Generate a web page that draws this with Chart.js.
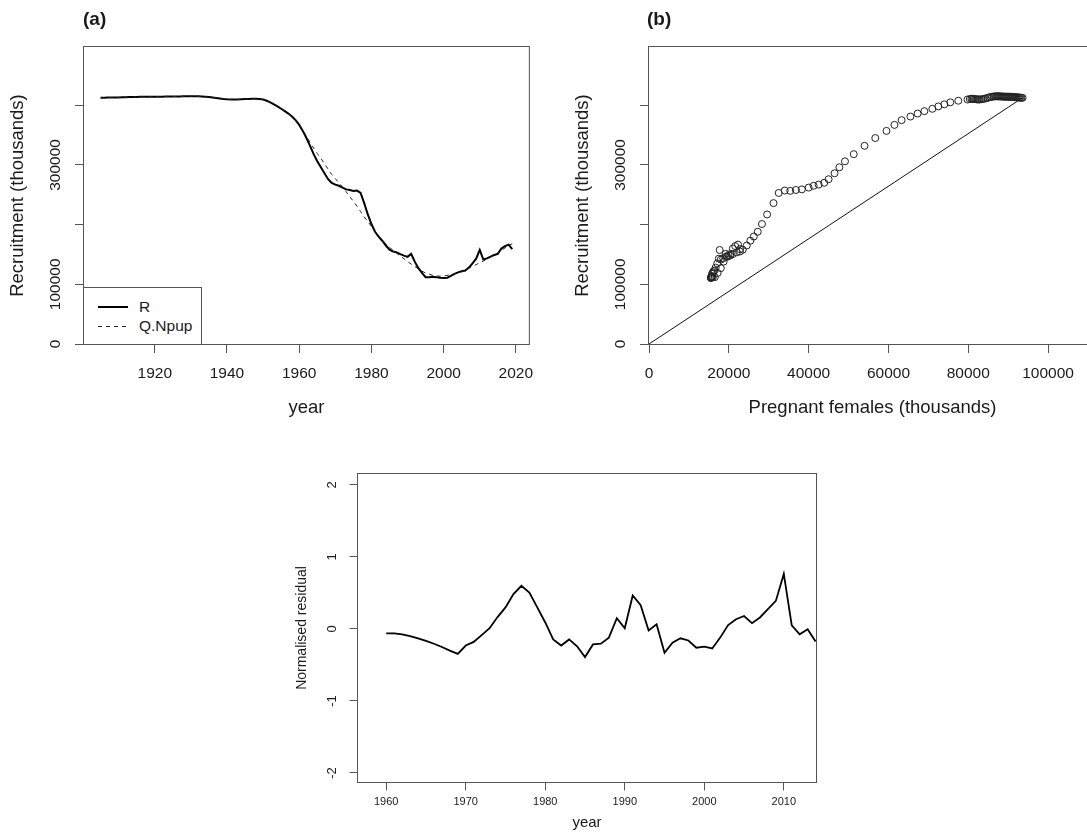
<!DOCTYPE html>
<html>
<head>
<meta charset="utf-8">
<title>Recruitment</title>
<script src="https://cdn.jsdelivr.net/npm/chart.js@4.4.1/dist/chart.umd.min.js"></script>
<style>
  html, body { margin: 0; padding: 0; background: #fff; overflow: hidden; }
  body { width: 1087px; height: 835px; position: relative; font-family: "Liberation Sans", Arial, sans-serif; color: #1a1a1a; }
  canvas { position: absolute; }
  .tag { position: absolute; font-weight: bold; font-size: 19px; line-height: 19px; }
  #legA { position: absolute; left: 83px; top: 287px; width: 119px; height: 58px; box-sizing: border-box;
          border: 1px solid #555; background: #fff; }
  #legA .sw { position: absolute; left: 14px; width: 30px; }
  #legA .solid { top: 18px; height: 2px; background: #000; }
  #legA .dashed { top: 38px; height: 1px; background: repeating-linear-gradient(to right, #222 0 4px, transparent 4px 8px); }
  #legA .key { position: absolute; left: 55px; font-size: 15.5px; line-height: 18px; white-space: nowrap; }
</style>
</head>
<body>
<canvas id="chartA" width="545" height="425" style="left:0; top:0"></canvas>
<canvas id="chartB" width="560" height="425" style="left:545px; top:0"></canvas>
<canvas id="chartC" width="560" height="395" style="left:280px; top:440px"></canvas>

<div class="tag" style="left:83px; top:9px">(a)</div>
<div class="tag" style="left:647px; top:9px">(b)</div>
<div id="legA">
  <div class="sw solid"></div>
  <div class="sw dashed"></div>
  <div class="key" style="top:10px">R</div>
  <div class="key" style="top:29px">Q.Npup</div>
</div>

<script>
// recruitment R and fitted Q.Npup, one value per year from 1905 to 2019
const firstYear = 1905
const recruit = [
    412400, 412500, 412700, 412800, 413000, 413100, 413300, 413400, 413600, 413700, // 1905
    413900, 414000, 414100, 414100, 414200, 414200, 414300, 414300, 414400, 414400, // 1915
    414500, 414600, 414700, 414800, 414800, 414900, 414900, 414800, 414600, 414200, // 1925
    413700, 413000, 412200, 411300, 410500, 410000, 409700, 409600, 409700, 409900, // 1935
    410200, 410500, 410700, 410700, 410400, 409500, 407500, 404800, 401500, 398000, // 1945
    394000, 390000, 386000, 381000, 375000, 367000, 357000, 345000, 332000, 318000, // 1955
    306000, 296000, 286000, 276000, 270000, 267000, 265000, 262000, 259000, 258000, // 1965
    256500, 257000, 253000, 236000, 217000, 201000, 188000, 180000, 173000, 165000, // 1975
    158000, 155000, 153500, 150500, 148000, 146000, 151000, 138000, 127000, 119000, // 1985
    112000, 112000, 112500, 112000, 111000, 110500, 111000, 114000, 117500, 120000, // 1995
    122000, 123000, 128000, 135000, 143000, 157500, 141500, 143500, 146500, 149000, // 2005
    151000, 160000, 164000, 166500, 159000                                          // 2015
]
const qNpup = [
    412400, 412500, 412700, 412800, 413000, 413100, 413300, 413400, 413600, 413700,
    413900, 414000, 414100, 414100, 414200, 414200, 414300, 414300, 414400, 414400,
    414500, 414600, 414700, 414800, 414800, 414900, 414900, 414800, 414600, 414200,
    413700, 413000, 412200, 411300, 410500, 410000, 409700, 409600, 409700, 409900,
    410200, 410500, 410700, 410700, 410400, 409500, 407500, 404800, 401500, 398000,
    394000, 390000, 386000, 381000, 375000, 367000, 358000, 348000, 338000, 328000,
    319000, 311000, 302000, 293000, 284000, 277000, 270000, 263000, 255000, 247000,
    239000, 231000, 222000, 213000, 205000, 197000, 189000, 181000, 174000, 168000,
    162000, 157000, 152000, 147000, 143000, 138000, 134000, 130000, 126000, 122000,
    119000, 117000, 115000, 114000, 113500, 114000, 115000, 116000, 117500, 119000,
    121000, 124000, 127000, 130000, 133000, 136000, 139000, 142000, 145500, 149000,
    153000, 157000, 161000, 165000, 168000
]
// pregnant females (thousands), same years
const pregnant = [
    93600, 93300, 93000, 92800, 92500, 92300, 92000, 91800, 91500, 91300,
    91000, 90800, 90500, 90300, 90000, 89800, 89500, 89300, 89000, 88800,
    88500, 88300, 88000, 87800, 87500, 87300, 87000, 86700, 86400, 86000,
    85600, 85200, 84800, 84300, 83800, 83300, 82900, 82600, 82300, 82000,
    81700, 81400, 81100, 80800, 80400, 79800, 77500, 75500, 74000, 72500,
    71000, 69000, 67300, 65500, 63300, 61500, 59500, 56700, 54000, 51300,
    49100, 47700, 46500, 45000, 43900, 42500, 41250, 40000, 38300, 36800,
    35400, 34000, 32500, 31200, 29600, 28300, 27250, 26250, 25400, 24500,
    23500, 22800, 22000, 21000, 20300, 19600, 19200, 18700, 18000, 17200,
    16500, 16000, 15800, 15600, 15500, 15500, 15600, 15700, 15800, 16000,
    16200, 16400, 16700, 17100, 17500, 17700, 18000, 18600, 19300, 19900,
    20500, 21000, 21600, 22300, 22800
]
// normalised residuals 1960 to 2014
const residFirstYear = 1960
const resid = [
    -0.06, -0.06, -0.075, -0.10, -0.13, -0.165, -0.205, -0.25, -0.30, -0.345,
    -0.23, -0.18, -0.085, 0.01, 0.165, 0.30, 0.485, 0.60, 0.505, 0.30,
    0.09, -0.145, -0.23, -0.145, -0.24, -0.39, -0.215, -0.205, -0.12, 0.15,
    0.01, 0.465, 0.33, -0.02, 0.065, -0.33, -0.19, -0.13, -0.16, -0.26,
    -0.245, -0.27, -0.12, 0.055, 0.135, 0.18, 0.08, 0.16, 0.275, 0.39,
    0.765, 0.05, -0.075, -0.005, -0.175
]

const yearTicks = [1920, 1940, 1960, 1980, 2000, 2020]
const recruitTicks = [0, 100000, 200000, 300000, 400000]
const recruitTickLabels = ['0', '100000', '', '300000', '']
const femaleTicks = [0, 20000, 40000, 60000, 80000, 100000]
const residTicks = [-2, -1, 0, 1, 2]
const residYearTicks = [1960, 1970, 1980, 1990, 2000, 2010]

const years = recruit.map((v, i) => firstYear + i)
const residYears = resid.map((v, i) => residFirstYear + i)

const FONT = "'Liberation Sans', Arial, sans-serif"
const NARROW = "'Liberation Sans Narrow', 'Liberation Sans', Arial, sans-serif"
const AXIS_COL = '#555'
const TEXT_COL = '#1a1a1a'

// R style box around the plot region
const boxPlugin = {
    id: 'rbox',
    afterDraw(chart) {
        const a = chart.chartArea
        const ctx = chart.ctx
        ctx.save()
        ctx.strokeStyle = AXIS_COL
        ctx.lineWidth = 1
        ctx.strokeRect(a.left - 0.5, a.top - 0.5, a.right - a.left + 1, a.bottom - a.top + 1)
        ctx.restore()
    }
}

function fixedTicks(values) {
    return function (scale) { scale.ticks = values.map(v => ({value: v})) }
}

function xAxis(o) {
    return {
        type: 'linear', position: 'bottom', min: o.min, max: o.max,
        afterBuildTicks: fixedTicks(o.ticks),
        afterFit: s => { s.height = o.height },
        border: {display: false},
        grid: {drawOnChartArea: false, drawTicks: true, tickLength: o.tick, tickColor: AXIS_COL, tickWidth: 1},
        ticks: {
            autoSkip: false, minRotation: 0, maxRotation: 0, padding: o.pad, color: TEXT_COL,
            font: {family: FONT, size: o.size}, callback: v => String(v)
        },
        title: {
            display: true, text: o.title, color: TEXT_COL,
            font: {family: FONT, size: o.titleSize}, padding: {top: 0, bottom: o.titlePad}
        }
    }
}

function yAxis(o) {
    return {
        type: 'linear', position: 'left', min: o.min, max: o.max,
        afterBuildTicks: fixedTicks(o.ticks),
        afterFit: s => { s.width = o.width },
        border: {display: false},
        grid: {drawOnChartArea: false, drawTicks: true, tickLength: o.tick, tickColor: AXIS_COL, tickWidth: 1},
        ticks: {
            autoSkip: false, minRotation: 90, maxRotation: 90, crossAlign: 'center', padding: o.pad,
            color: TEXT_COL, font: {family: o.family || FONT, size: o.size},
            callback: (v, i) => o.labels[i]
        },
        title: {
            display: true, text: o.title, color: TEXT_COL,
            font: {family: o.family || FONT, size: o.titleSize}, padding: {top: o.titlePad, bottom: 0}
        }
    }
}

function baseOptions(padding, scales) {
    return {
        responsive: false, animation: false, devicePixelRatio: 1, events: [],
        layout: {padding: padding},
        plugins: {legend: {display: false}, tooltip: {enabled: false}, title: {display: false}},
        scales: scales
    }
}

// (a) recruitment through time
new Chart(document.getElementById('chartA'), {
    type: 'line',
    data: {
        datasets: [{
            label: 'Q.Npup',
            data: years.map((y, i) => ({x: y, y: qNpup[i]})),
            borderColor: '#222', borderWidth: 1, borderDash: [4, 4],
            pointRadius: 0, tension: 0, fill: false
        }, {
            label: 'R',
            data: years.map((y, i) => ({x: y, y: recruit[i]})),
            borderColor: '#000', borderWidth: 2,
            pointRadius: 0, tension: 0, fill: false
        }]
    },
    options: baseOptions({left: 0, top: 47, right: 14, bottom: 0}, {
        x: xAxis({min: 1900.4, max: 2023.6, ticks: yearTicks, height: 81, tick: 9, pad: 11.5, size: 15.5,
                  title: 'year', titleSize: 18.5, titlePad: 6}),
        y: yAxis({min: 0, max: 497500, ticks: recruitTicks, labels: recruitTickLabels, width: 84, tick: 9,
                  pad: -7, size: 15.5, title: 'Recruitment (thousands)', titleSize: 18.5, titlePad: 7})
    }),
    plugins: [boxPlugin]
})

// (b) recruitment against pregnant females
new Chart(document.getElementById('chartB'), {
    type: 'scatter',
    data: {
        datasets: [{
            label: 'R',
            data: pregnant.map((p, i) => ({x: p, y: recruit[i]})),
            pointStyle: 'circle', pointRadius: 3.5, pointBorderWidth: 1,
            pointBorderColor: '#222', pointBackgroundColor: 'rgba(0,0,0,0)', showLine: false
        }, {
            type: 'line',
            label: 'replacement',
            data: [{x: 0, y: 0}, {x: pregnant[0], y: recruit[0]}],
            borderColor: '#111', borderWidth: 1, pointRadius: 0, tension: 0, fill: false
        }]
    },
    options: baseOptions({left: 0, top: 47, right: 9, bottom: 0}, {
        x: xAxis({min: 0, max: 112000, ticks: femaleTicks, height: 81, tick: 9, pad: 11.5, size: 15.5,
                  title: 'Pregnant females (thousands)', titleSize: 18.5, titlePad: 6}),
        y: yAxis({min: 0, max: 497500, ticks: recruitTicks, labels: recruitTickLabels, width: 104, tick: 9,
                  pad: -7, size: 15.5, title: 'Recruitment (thousands)', titleSize: 18.5, titlePad: 27})
    }),
    plugins: [boxPlugin]
})

// (c) normalised residuals
new Chart(document.getElementById('chartC'), {
    type: 'line',
    data: {
        datasets: [{
            label: 'residual',
            data: residYears.map((y, i) => ({x: y, y: resid[i]})),
            borderColor: '#000', borderWidth: 1.8,
            pointRadius: 0, tension: 0, fill: false
        }]
    },
    options: baseOptions({left: 0, top: 34, right: 24, bottom: 0}, {
        x: xAxis({min: 1956.45, max: 2014.05, ticks: residYearTicks, height: 53, tick: 8.5, pad: 4.4, size: 11,
                  title: 'year', titleSize: 15, titlePad: 3.6}),
        y: yAxis({min: -2.125, max: 2.152, ticks: residTicks, labels: residTicks.map(String), width: 78, tick: 8.5,
                  pad: 11, size: 13, family: NARROW, title: 'Normalised residual', titleSize: 14, titlePad: 13.6})
    }),
    plugins: [boxPlugin]
})
</script>
</body>
</html>
